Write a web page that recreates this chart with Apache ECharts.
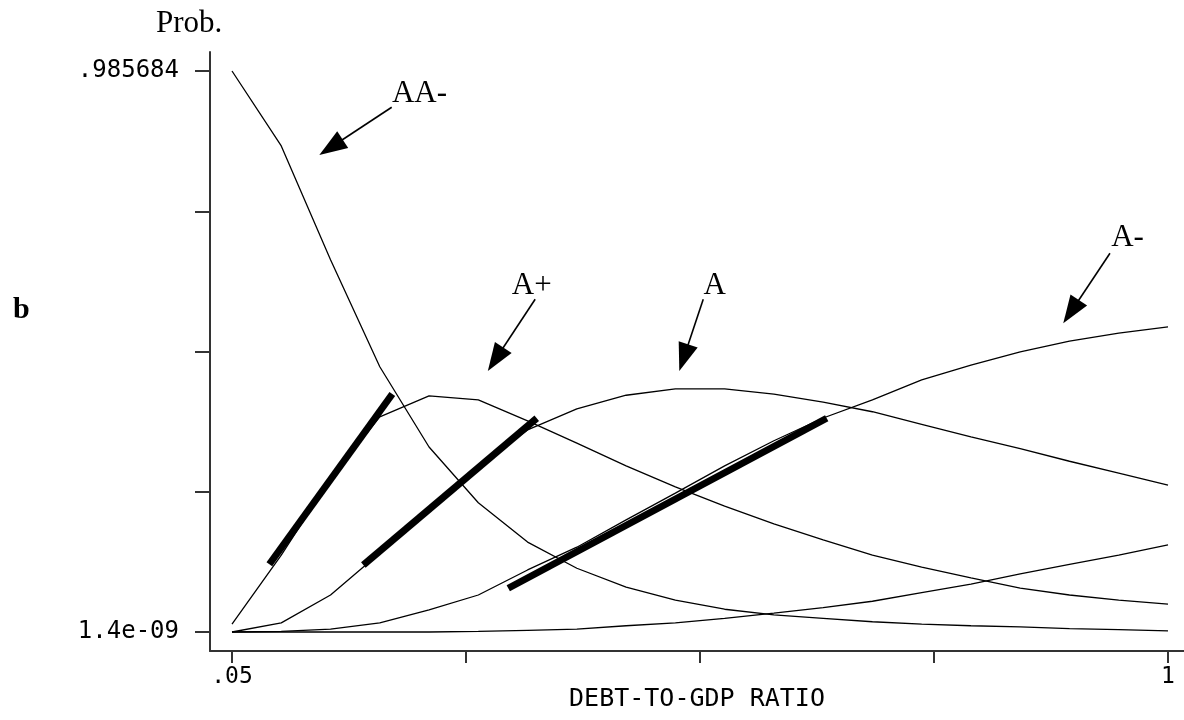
<!DOCTYPE html>
<html><head><meta charset="utf-8">
<script src="https://cdn.jsdelivr.net/npm/echarts@6/dist/echarts.min.js"></script>
<style>html,body{margin:0;padding:0;background:#fff}#c{width:1184px;height:720px}</style>
</head><body><div id="c"></div>
<script>
// ---- data ----
const debtRatio = [0.05,0.10,0.15,0.20,0.25,0.30,0.35,0.40,0.45,0.50,0.55,0.60,0.65,0.70,0.75,0.80,0.85,0.90,0.95,1.00];
const probAAminus = [0.985684,0.854,0.654,0.466,0.325,0.227,0.158,0.112,0.079,0.056,0.040,0.030,0.024,0.018,0.014,0.011,0.009,0.006,0.004,0.002];
const probAplus   = [0.014,0.135,0.269,0.378,0.415,0.408,0.371,0.332,0.292,0.255,0.221,0.190,0.162,0.135,0.114,0.095,0.077,0.065,0.056,0.049];
const probA       = [0.000,0.016,0.065,0.139,0.214,0.292,0.355,0.392,0.416,0.427,0.427,0.418,0.404,0.387,0.365,0.343,0.322,0.300,0.279,0.258];
const probAminus  = [0.000,0.001,0.005,0.016,0.039,0.065,0.109,0.149,0.197,0.244,0.292,0.336,0.376,0.408,0.443,0.469,0.492,0.511,0.525,0.536];
const probBBBplus = [0.000,0.000,0.000,0.000,0.000,0.001,0.003,0.005,0.011,0.016,0.024,0.033,0.043,0.054,0.069,0.084,0.102,0.119,0.135,0.153];

// tangent segments (thick lines), [x, prob]
const tangentAAminus = [[0.0879,0.1190],[0.2127,0.4182]];
const tangentAplus   = [[0.1833,0.1177],[0.3593,0.3755]];
const tangentA       = [[0.3304,0.0768],[0.6536,0.3755]];

// annotations
const annotText   = ['AA-','A+','A','A-'];
const annotTextX  = [0.2403,0.3542,0.5399,0.9589];
const annotTextY  = [0.9462,0.6080,0.6080,0.6932];
const arrowFromX  = [0.2121,0.3577,0.5283,0.9411];
const arrowFromY  = [0.9220,0.5846,0.5846,0.6654];
const arrowToX    = [0.1505,0.3175,0.5085,0.9016];
const arrowToY    = [0.8517,0.4792,0.4820,0.5628];

// ticks
const xTickValues  = [0.05,0.2875,0.525,0.7625,1];
const xLabelValues = [0.05,1];
const xLabelText   = ['.05','1'];
const yTickValues  = [0,0.246421,0.492842,0.739263,0.985684];
const yLabelValues = [0,0.985684];
const yLabelText   = ['1.4e-09','.985684'];

const zip = (xs, ys) => xs.map((x,i)=>[x, ys[i]]);
const thin = (name, ys) => ({
  name, type:'line', data: zip(debtRatio, ys), symbol:'none', silent:true,
  lineStyle:{color:'#000', width:1.3}
});
const thick = (name, d) => ({
  name, type:'line', data: d, symbol:'none', silent:true,
  lineStyle:{color:'#000', width:7, cap:'butt'}
});

const monoFont = 'DejaVu Sans Mono';
const serif = 'Liberation Serif';

const chart = echarts.init(document.getElementById('c'), null, {renderer:'canvas'});
chart.setOption({
  animation:false,
  backgroundColor:'#fff',
  title:[
    {text:'Prob.', left:151, top:3, textStyle:{fontFamily:serif, fontSize:31, fontWeight:'normal', color:'#000'}},
    {text:'b', left:8, top:290, textStyle:{fontFamily:serif, fontSize:30, fontWeight:'bold', color:'#000'}}
  ],
  grid:{left:210, right:0, top:52, bottom:69, containLabel:false, outerBoundsMode:'none'},
  xAxis:{
    type:'value', min:0.02767, max:1.01624,
    name:'DEBT-TO-GDP RATIO', nameLocation:'middle', nameGap:36, nameMoveOverlap:false,
    nameTextStyle:{fontFamily:monoFont, fontSize:25, color:'#000'},
    axisLine:{show:true, onZero:false, lineStyle:{color:'#333', width:2}},
    axisTick:{show:true, inside:false, length:12, customValues:xTickValues, lineStyle:{color:'#333', width:2}},
    axisLabel:{show:true, margin:15, customValues:xLabelValues, fontFamily:monoFont, fontSize:23, color:'#000',
      formatter:v=>{const i=xLabelValues.findIndex(t=>Math.abs(t-v)<1e-6); return i>=0?xLabelText[i]:'';}},
    splitLine:{show:false}
  },
  yAxis:{
    type:'value', min:-0.03339, max:1.01907,
    axisLine:{show:true, onZero:false, lineStyle:{color:'#333', width:2}},
    axisTick:{show:true, inside:false, length:15, customValues:yTickValues, lineStyle:{color:'#333', width:2}},
    axisLabel:{show:true, margin:31, customValues:yLabelValues, fontFamily:monoFont, fontSize:24, color:'#000',
      formatter:v=>{const i=yLabelValues.findIndex(t=>Math.abs(t-v)<1e-6); return i>=0?yLabelText[i]:'';}},
    splitLine:{show:false}
  },
  series:[
    thin('AA-', probAAminus),
    thin('A+', probAplus),
    thin('A', probA),
    thin('A-', probAminus),
    thin('BBB+', probBBBplus),
    thick('tangent AA-', tangentAAminus),
    thick('tangent A+', tangentAplus),
    thick('tangent A', tangentA),
    {
      name:'annotations', type:'scatter', silent:true, symbolSize:0,
      itemStyle:{opacity:1, color:'#000'},
      data: annotText.map((t,i)=>({value:[annotTextX[i], annotTextY[i]], name:t})),
      label:{show:true, position:'inside', formatter:p=>p.name, fontFamily:serif, fontSize:31, color:'#000', opacity:1,
        textBorderWidth:0},
      markLine:{
        silent:true, symbol:['none','triangle'], symbolSize:[20,28],
        lineStyle:{color:'#000', width:1.6, type:'solid', opacity:1},
        itemStyle:{color:'#000', opacity:1},
        label:{show:false},
        data: arrowFromX.map((x,i)=>[{coord:[x, arrowFromY[i]]},{coord:[arrowToX[i], arrowToY[i]]}])
      }
    }
  ]
});
</script></body></html>
